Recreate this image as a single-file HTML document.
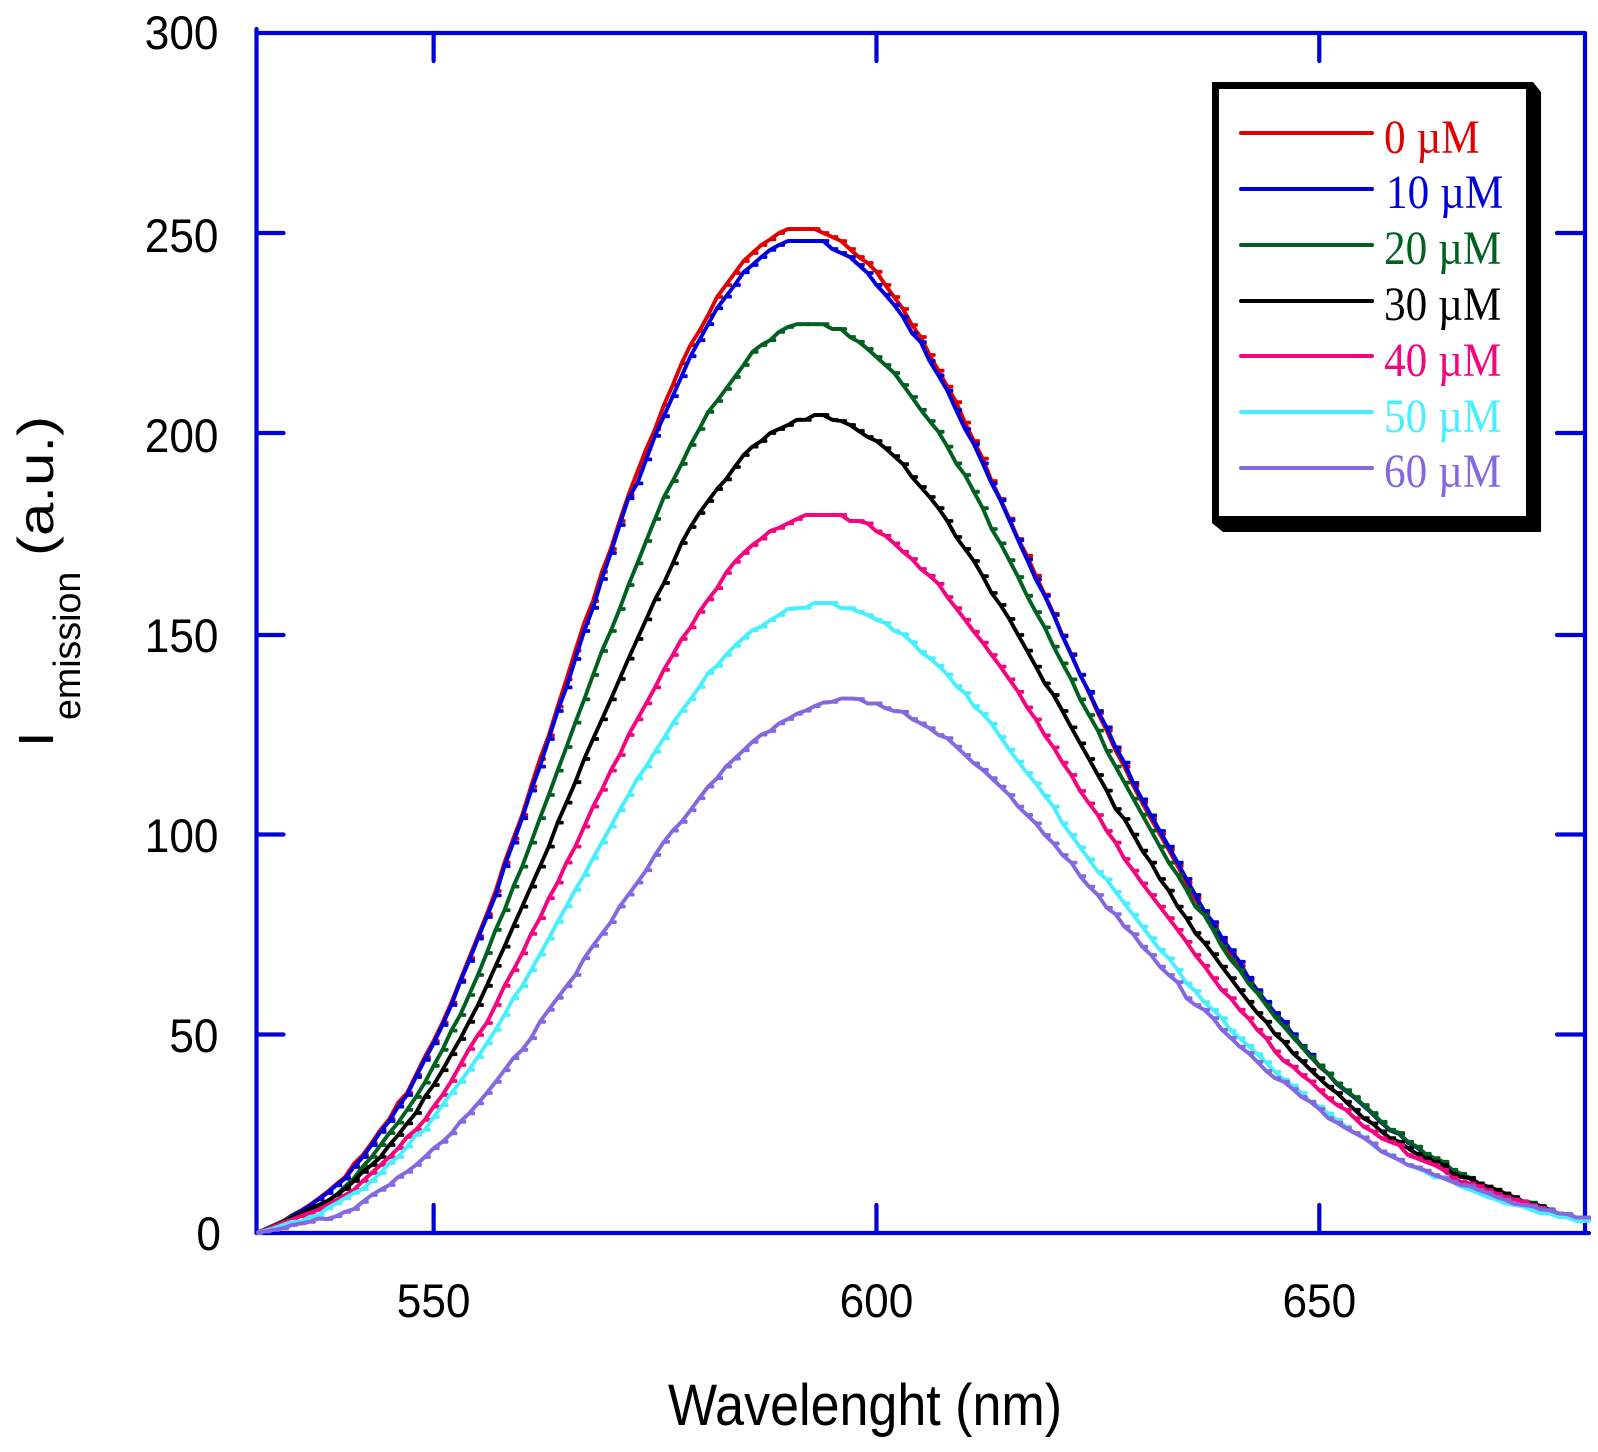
<!DOCTYPE html>
<html lang="en">
<head>
<meta charset="utf-8">
<title>Emission spectra</title>
<style>
html,body{margin:0;padding:0;background:#fff;}
svg{display:block;}
text{font-family:"Liberation Sans",sans-serif;fill:#000;}
.serif{font-family:"Liberation Serif",serif;}
</style>
</head>
<body>
<svg id="chart" xmlns="http://www.w3.org/2000/svg" width="1598" height="1452" viewBox="0 0 1598 1452">
  <rect x="0" y="0" width="1598" height="1452" fill="#ffffff"/>
  <g id="axes"></g>
  <g id="plot"></g>
  <text transform="translate(668,1425) scale(0.897,1)" font-size="58">Wavelenght (nm)</text>
  <text transform="translate(53,747) rotate(-90) scale(1,0.885)" font-size="56">I</text>
  <text transform="translate(80,720) rotate(-90)" font-size="37.6">emission</text>
  <text transform="translate(53,556) rotate(-90) scale(1,0.83)" font-size="60">(a.u.)</text>
  <g id="legend">
    <polygon points="1212,82 1533,82 1541,92 1541,532 1223,532 1212,523" fill="#000"/>
    <rect x="1219" y="89" width="307" height="427" fill="#fff"/>
  </g>
</svg>
<script>
const NS = 'http://www.w3.org/2000/svg';

const wavelengthStart = 530;
const wavelengthStep = 1;
const xTicks = [550, 600, 650];
const yTicks = [0, 50, 100, 150, 200, 250, 300];
const seriesNames = ['0 µM', '10 µM', '20 µM', '30 µM', '40 µM', '50 µM', '60 µM'];
const seriesColors = ['#e00000', '#0000dc', '#006020', '#000000', '#f5047f', '#48f0ff', '#8468e0'];
const legendTextColors = ['#e00000', '#0000dc', '#006020', '#000000', '#f5047f', '#48f0ff', '#8468e0'];

const intensity0uM = [
0,0.8,1.8,3,4.4,5.6,7,8.6,10.3,12.2,
14,17.3,19.5,22.5,25.8,28.5,32.6,35,39.5,44,
48,52.6,57.6,63.2,68.7,74.2,79.7,85.5,92.6,98.6,
104.5,111.6,118.5,124.4,131.6,138.4,145.6,152.5,158,165.3,
171,178,184.5,190.3,196,201,207,212,217.4,222,
225.5,229.5,234,237,240,243,245,247,248.4,250,
251,251,251,251,250,249,248,246,244,242.5,
240.3,237,234,231,227,224,219.5,215.6,211.6,207.7,
202.6,198,193.6,188,183.5,178.6,173.5,169.3,164.3,159.6,
154.8,149.4,144.7,139.6,135,130,125.6,120.6,116.6,111.8,
107.6,103.5,99.7,95.8,91.8,87.6,83.7,79.8,76.8,73,
69.8,66.8,63.2,60.2,57.4,54.6,52.4,49.4,46.5,44.3,
41.6,39.8,37.2,35.5,33.8,31.8,29.8,27.6,25.6,24.8,
22.6,21.4,19.6,18.5,17.6,15.6,14.6,13.6,12.2,11.4,
10.6,9.7,8.8,7.6,7.4,6.5,5.7,4.7,4.5,3.7,
3.5];

const intensity10uM = [
0,0.8,1.8,2.8,4.3,5.5,6.8,8.4,10,11.9,
13.6,16.5,19,22,25.3,28,31.6,34.5,39,43.3,
47.4,52,57,62.8,68,73.6,79,84.4,91.7,97.6,
103.7,110.6,116.6,123.5,130.5,136.4,143.5,150.5,156.3,163.5,
170,177,183.7,187.4,193.4,199.3,204.2,209.2,214.2,219.2,
223.2,227.2,231.2,234.1,237,240.2,242,244,245.8,247,
248,248,248,248,248,246,245,244,242,240,
237,234.6,232,229,225,222.7,218,214.4,210.6,205.7,
201,197.2,192.4,187.4,183.2,178.2,173.2,168.4,163.4,159.3,
154.5,149.2,144.5,139.5,135.3,130.5,126.4,121.4,117.6,112.5,
108.4,104.4,100.5,96.6,92.6,88.5,84.5,80.5,77.7,73.8,
70.7,67.8,63.8,60.7,57.8,55,52.8,49.7,46.8,44.6,
41.8,39.8,37.2,35.5,33.8,31.8,29.8,27.6,25.6,24.8,
22.6,21.4,19.6,18.5,17,15.6,14.6,13.6,12.2,11.4,
10.6,9.7,8.8,7.6,7.4,6.5,5.7,4.7,4.5,3.7,
3.5];

const intensity20uM = [
0,1,2,3,4,5,5.8,6.6,8,9.5,
11.6,13.7,16.6,19,22,25,27.6,30.8,34,37.6,
41.8,45.8,50.6,54.5,59.5,64.5,70,75.8,80.7,86.6,
91.6,97.6,103.7,109.5,115.6,121.5,127.6,133.4,139.5,145.5,
150.5,156,162,167.4,173,178.5,184,188,192.3,197,
201,205.3,208,211,214,217,220.3,222,223.2,225.3,
226.5,227.2,227.2,227.2,227.2,226,226,224,222.8,221,
219,217,215,212,209,205.8,203,200.3,196.6,192.4,
189.5,185.3,181.2,176,172.4,168.2,164,159.3,155.2,151.4,
146.6,142.4,138.4,133.4,129.5,125.6,120.5,116.6,112.6,108.6,
104.6,100.6,96.6,92.6,89.5,85.8,81.6,79.5,75.8,71.6,
68.3,65.8,62.4,60,57,54,51.6,49,46.6,44,
41.9,39.9,37.4,35.7,34,32,30,27.8,25.8,25,
22.8,21.6,19.8,18.7,17.8,15.8,14.8,13.8,12.4,11.6,
10.8,9.9,9,7.8,7.6,6.7,5.9,4.9,4.7,3.9,
3.7];

const intensity30uM = [
0,0.9,1.8,2.8,3.8,4.9,6,7,8,9.5,
11,13,15.3,17,19,22,24.5,27.4,30,34,
37,40.7,44.7,48.5,52.8,57,61.8,66.8,71.6,76.7,
81.6,86.6,91.6,96.6,102.6,107.6,112.7,118.5,123.5,128.4,
133.4,138.5,143.6,148.5,153.4,158.4,162.5,167.4,172.5,176.5,
180,183,186,188.4,191.5,194.5,196.6,198,200,201,
202,203.3,203.3,204.5,204.5,203.3,203,202,200.5,199,
198,196.2,194.2,192.2,189,186.5,184,181.2,178,174,
171,168,164.2,160,157,153.5,149.5,145.6,141.6,137.4,
134.5,130.5,126.4,122.4,118.5,114.5,110.6,106,103.5,99.6,
95.6,92.6,88.5,85.6,81.6,78.7,75,72.6,69.7,66.6,
63.7,60.7,57.8,55,52.8,49.7,47.8,45,43,40.8,
38.7,36.6,35,32.8,30.8,28.7,27.4,25.4,23.7,22.8,
21.2,19.8,18.7,17.8,17,14.8,14,13.7,12.4,11.6,
10.8,9.8,8.9,7.9,7.2,6.7,5.6,4.8,4.6,3.8,
3.6];

const intensity40uM = [
0,0.8,1.7,2.6,3.4,4.2,5,5.8,7,8.2,
9.5,10.8,13,15,17,19,21.2,24,25.8,28.3,
31.6,34.5,38,42,46,49.5,52.5,57,61.8,65.7,
69.9,74.8,78.7,83.7,87.6,92.6,96.6,101.6,106.6,110.8,
115.6,119.5,124.5,128.4,132.4,136.4,140.8,144.5,148.5,151.4,
155.3,158.4,161.2,165,167.8,170,172,173.6,175.5,176.3,
177.4,178.5,179.5,179.5,179.5,179.5,179.5,178,178,177.4,
175.4,174.3,172.4,170.3,168.5,166,164.3,162.3,159,156.2,
153.3,150.3,147.6,144.5,141.6,138.4,135.3,131.4,128.4,124.4,
121.4,117.6,114.5,110.5,107.4,104.5,100.5,97.6,93.5,90.6,
87.4,84.5,81.6,78.7,75.8,72.8,69.5,66.8,63.7,60.7,
58.7,55.8,53.7,50.8,48.7,45.4,43,41.6,39.5,37.9,
35.7,33.7,32,30.8,28.7,26.6,25.4,23.7,22.8,22,
19.5,18.7,17.8,17,15.8,13.8,12.8,12.4,11.7,10.7,
9.8,9,8.4,7.8,7,6.3,5.6,4.7,4.5,3.7,
3.4];

const intensity50uM = [
0,0.6,1.2,2,2.8,2.8,4,4.5,6.2,7.4,
8.7,10,11,13,15,17.5,19,21.6,24.5,25.8,
29,32,35,37.8,40.8,44,47.4,50.8,54.5,58.7,
61.7,65.7,69.6,73.6,77.8,81.7,85.8,89.5,93.7,97.6,
101.6,105.7,109.5,113.6,116.6,120.3,123.7,127.4,130.5,133.4,
136.5,140,141.8,144.5,146.8,148.8,150.7,151.6,153.2,154.5,
156,156.2,156.3,157.5,157.5,157.5,156.2,156.2,155.3,154.5,
153.3,152.5,150.5,149.7,147.7,145.3,143.7,141.8,139.6,136.7,
135,131.7,129.8,127.3,124,120.8,117.9,115,112.4,109.3,
106.6,102.4,99.5,96.4,93.4,90.3,88.4,85.3,82.4,79.5,
76.6,73.7,70.8,68.7,65.8,62.4,60.5,57.7,55.8,53.7,
50.6,48.7,46.8,44.7,42.7,40.3,38.3,36.8,35,32.8,
31.6,29.9,28.3,26.6,25,24,22,20.4,19.5,18.3,
17,16.2,15.3,13.9,14,12.8,11.6,10.8,9.9,9,
8.3,7.4,7,6.6,5.7,4.9,4.9,4,3.9,3,
3];

const intensity60uM = [
0,0.4,0.8,1.2,2,2.4,2.8,3.6,3.5,4.2,
5.3,6,7.8,9.5,10.8,12,14,15.3,17,19,
21.2,22.8,24.9,27.8,29.9,32.4,35,37.8,40.7,43.7,
45.8,48.7,52.8,55.8,58.8,61.7,64.5,68.7,71.8,74.8,
77.7,81.6,84.6,87.6,90.7,94.5,97.8,100.6,102.8,105.7,
108.7,111.6,113.7,116.6,118.6,120.7,122.8,124.6,125.5,127.4,
128.5,129.8,130.6,131.7,132.6,132.8,133.6,133.6,133.5,132.4,
132.4,131.2,130.5,130.3,128.5,127.4,126.2,124.5,123.7,121.6,
119.5,117.4,115.8,113.7,111.6,109.5,106.6,104.5,102.4,99.5,
97.4,94.5,92.6,89.2,86.6,84.5,81.3,79.7,76.6,74.7,
71.6,69.5,66.6,64.5,62.7,58.7,57,55.8,53.7,50.8,
48.8,46.6,45,42.8,40.5,38.7,37.8,36,34,32.8,
31,28.7,27.6,26.2,25,23.8,22.4,20.4,19.3,18.3,
17,16.4,15.6,14.5,13.7,12.8,12,11.7,10.7,10,
9,8.3,7.3,7,6.7,5.9,5.7,4.9,4.7,3.9,
3.9];

const seriesValues = [intensity0uM, intensity10uM, intensity20uM, intensity30uM, intensity40uM, intensity50uM, intensity60uM];

const plotLeft = 256.5, plotRight = 1585, plotTop = 33, plotBottom = 1233;
const xMin = 530, xMax = 680, yMin = 0, yMax = 300;
function xScale(v) { return plotLeft + (v - xMin) / (xMax - xMin) * (plotRight - plotLeft); }
function yScale(v) { return plotBottom - (v - yMin) / (yMax - yMin) * (plotBottom - plotTop); }

const AXIS_COLOR = '#0000d8';
const AXIS_WIDTH = 4.2;
const axes = document.getElementById('axes');
const plot = document.getElementById('plot');
const legend = document.getElementById('legend');

function segment(parent, x1, y1, x2, y2, color, width) {
  const l = document.createElementNS(NS, 'line');
  l.setAttribute('x1', x1);
  l.setAttribute('y1', y1);
  l.setAttribute('x2', x2);
  l.setAttribute('y2', y2);
  l.setAttribute('stroke', color);
  l.setAttribute('stroke-width', width);
  l.setAttribute('stroke-linecap', 'round');
  parent.appendChild(l);
  return l;
}

const frameTop = segment(axes, plotLeft, plotTop, plotRight, plotTop, AXIS_COLOR, AXIS_WIDTH);


const frameBottom = segment(axes, plotLeft, plotBottom, plotRight + 4, plotBottom, AXIS_COLOR, AXIS_WIDTH);


const frameLeft = segment(axes, plotLeft, plotTop - 4, plotLeft, plotBottom, AXIS_COLOR, AXIS_WIDTH);


const frameRight = segment(axes, plotRight, plotTop, plotRight, plotBottom, AXIS_COLOR, AXIS_WIDTH);



xTicks.forEach(function (t) {
  const px = xScale(t);
  const tb = segment(axes, px, plotBottom, px, plotBottom - 28, AXIS_COLOR, AXIS_WIDTH);
  
  
  const tt = segment(axes, px, plotTop, px, plotTop + 28, AXIS_COLOR, AXIS_WIDTH);
  
  
  const lab = document.createElementNS(NS, 'text');
  
  
  lab.setAttribute('transform', 'translate(' + px + ',1317) scale(0.94,1)');
  lab.setAttribute('font-size', '47');
  lab.setAttribute('text-anchor', 'middle');
  lab.textContent = t;
  axes.appendChild(lab);
});

function tickNudge(t) {
  if (t === 150) return 2;
  if (t === 50 || t === 100) return 1.5;
  return 0;
}
function labelNudge(t) {
  if (t === 300) return -1;
  if (t === 0) return 0;
  return 2;
}

yTicks.forEach(function (t) {
  const py = yScale(t);
  if (t > yMin && t < yMax) {
    const tl = segment(axes, plotLeft, py + tickNudge(t), plotLeft + 27, py + tickNudge(t), AXIS_COLOR, AXIS_WIDTH);
    
    
    const tr = segment(axes, plotRight, py + tickNudge(t), plotRight - 28, py + tickNudge(t), AXIS_COLOR, AXIS_WIDTH);
    
    
  }
  const lab = document.createElementNS(NS, 'text');
  
  
  lab.setAttribute('transform', 'translate(' + (t === 0 ? 221 : 218.5) + ',' + (py + 17 + labelNudge(t)) + ') scale(0.94,1)');
  lab.setAttribute('font-size', '47');
  lab.setAttribute('text-anchor', 'end');
  lab.textContent = t;
  axes.appendChild(lab);
});

seriesValues.forEach(function (values, s) {
  const g = document.createElementNS(NS, 'g');
  
  
  let d = '';
  values.forEach(function (v, i) {
    const lambda = wavelengthStart + i * wavelengthStep;
    d += (i ? 'L' : 'M') + xScale(lambda).toFixed(2) + ' ' + yScale(v).toFixed(2);
  });
  const path = document.createElementNS(NS, 'path');
  
  
  path.setAttribute('d', d);
  path.setAttribute('fill', 'none');
  path.setAttribute('stroke', seriesColors[s]);
  path.setAttribute('stroke-width', '3.9');
  path.setAttribute('stroke-linejoin', 'round');
  g.appendChild(path);
  values.forEach(function (v, i) {
    const lambda = wavelengthStart + i * wavelengthStep;
    const m = document.createElementNS(NS, 'rect');
    
    
    m.setAttribute('x', xScale(lambda).toFixed(2));
    m.setAttribute('y', (yScale(v) - 1.9).toFixed(2));
    m.setAttribute('width', '6');
    m.setAttribute('height', '3.8');
    m.setAttribute('rx', '1');
    m.setAttribute('fill', seriesColors[s]);
    g.appendChild(m);
  });
  plot.appendChild(g);
});

const legendLineY = [133, 189, 245, 301, 356, 412, 468];
const legendTextY = [153, 208, 264, 320, 376, 432, 487];
seriesNames.forEach(function (name, s) {
  const key = segment(legend, 1241, legendLineY[s], 1372, legendLineY[s], seriesColors[s], 4);
  
  
  const lab = document.createElementNS(NS, 'text');
  
  
  lab.setAttribute('class', 'serif');
  lab.setAttribute('transform', 'translate(' + (s === 1 ? 1386 : 1384) + ',' + legendTextY[s] + ') scale(0.9,1)');
  lab.setAttribute('font-size', '48');
  lab.setAttribute('style', 'fill:' + legendTextColors[s]);
  lab.textContent = name;
  legend.appendChild(lab);
});
</script>
</body>
</html>
